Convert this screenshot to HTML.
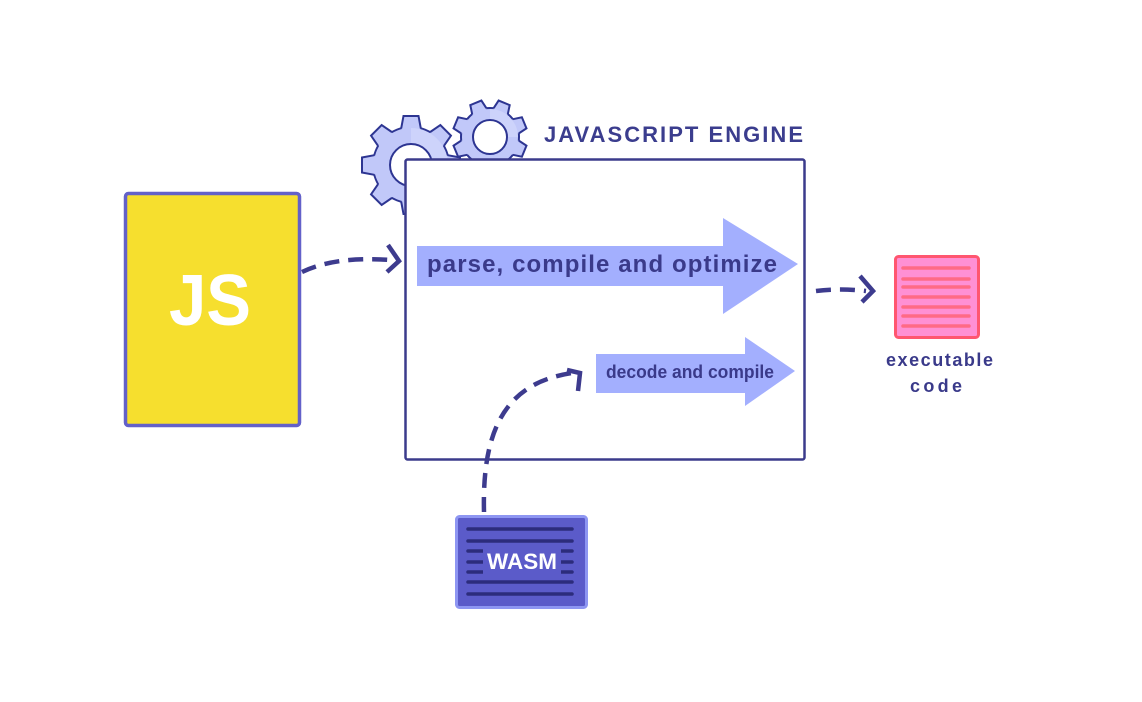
<!DOCTYPE html>
<html><head><meta charset="utf-8"><style>
html,body{margin:0;padding:0;background:#fff;}
svg{display:block;}
text{font-family:"Liberation Sans",sans-serif;font-weight:bold;}
</style></head><body>
<svg width="1142" height="702" viewBox="0 0 1142 702" xmlns="http://www.w3.org/2000/svg">
<rect width="1142" height="702" fill="#fff"/>

<!-- Big gear -->
<g stroke="#2d3592" stroke-width="2" fill="#c1c8f9">
  <circle cx="411" cy="165" r="38"/>
  <g transform="rotate(0 411 165)"><polygon points="401.5,130 403.5,116 418.5,116 420.5,130" stroke="none"/><path d="M401.2,128.3 L403.5,116 L418.5,116 L420.8,128.3" fill="none"/></g>
  <g transform="rotate(45 411 165)"><polygon points="401.5,130 403.5,116 418.5,116 420.5,130" stroke="none"/><path d="M401.2,128.3 L403.5,116 L418.5,116 L420.8,128.3" fill="none"/></g>
  <g transform="rotate(90 411 165)"><polygon points="401.5,130 403.5,116 418.5,116 420.5,130" stroke="none"/><path d="M401.2,128.3 L403.5,116 L418.5,116 L420.8,128.3" fill="none"/></g>
  <g transform="rotate(135 411 165)"><polygon points="401.5,130 403.5,116 418.5,116 420.5,130" stroke="none"/><path d="M401.2,128.3 L403.5,116 L418.5,116 L420.8,128.3" fill="none"/></g>
  <g transform="rotate(180 411 165)"><polygon points="401.5,130 403.5,116 418.5,116 420.5,130" stroke="none"/><path d="M401.2,128.3 L403.5,116 L418.5,116 L420.8,128.3" fill="none"/></g>
  <g transform="rotate(225 411 165)"><polygon points="401.5,130 403.5,116 418.5,116 420.5,130" stroke="none"/><path d="M401.2,128.3 L403.5,116 L418.5,116 L420.8,128.3" fill="none"/></g>
  <g transform="rotate(270 411 165)"><polygon points="401.5,130 403.5,116 418.5,116 420.5,130" stroke="none"/><path d="M401.2,128.3 L403.5,116 L418.5,116 L420.8,128.3" fill="none"/></g>
  <g transform="rotate(315 411 165)"><polygon points="401.5,130 403.5,116 418.5,116 420.5,130" stroke="none"/><path d="M401.2,128.3 L403.5,116 L418.5,116 L420.8,128.3" fill="none"/></g>
  <path d="M411,128 A37,37 0 0 1 448,165 L411,165 Z" fill="#d6dafb" stroke="none" opacity="0.6"/>
  <circle cx="411" cy="165" r="21" fill="#fff"/>
</g>

<!-- Small gear -->
<g stroke="#2d3592" stroke-width="2" fill="#c1c8f9">
  <circle cx="490" cy="137" r="29"/>
  <g transform="rotate(22.5 490 137)"><polygon points="482.5,110 484,100 496,100 497.5,110" stroke="none"/><path d="M482.3,109 L484,100 L496,100 L497.7,109" fill="none"/></g>
  <g transform="rotate(67.5 490 137)"><polygon points="482.5,110 484,100 496,100 497.5,110" stroke="none"/><path d="M482.3,109 L484,100 L496,100 L497.7,109" fill="none"/></g>
  <g transform="rotate(112.5 490 137)"><polygon points="482.5,110 484,100 496,100 497.5,110" stroke="none"/><path d="M482.3,109 L484,100 L496,100 L497.7,109" fill="none"/></g>
  <g transform="rotate(157.5 490 137)"><polygon points="482.5,110 484,100 496,100 497.5,110" stroke="none"/><path d="M482.3,109 L484,100 L496,100 L497.7,109" fill="none"/></g>
  <g transform="rotate(202.5 490 137)"><polygon points="482.5,110 484,100 496,100 497.5,110" stroke="none"/><path d="M482.3,109 L484,100 L496,100 L497.7,109" fill="none"/></g>
  <g transform="rotate(247.5 490 137)"><polygon points="482.5,110 484,100 496,100 497.5,110" stroke="none"/><path d="M482.3,109 L484,100 L496,100 L497.7,109" fill="none"/></g>
  <g transform="rotate(292.5 490 137)"><polygon points="482.5,110 484,100 496,100 497.5,110" stroke="none"/><path d="M482.3,109 L484,100 L496,100 L497.7,109" fill="none"/></g>
  <g transform="rotate(337.5 490 137)"><polygon points="482.5,110 484,100 496,100 497.5,110" stroke="none"/><path d="M482.3,109 L484,100 L496,100 L497.7,109" fill="none"/></g>
  <path d="M490,109 A28,28 0 0 1 518,137 L490,137 Z" fill="#d6dafb" stroke="none" opacity="0.6"/>
  <circle cx="490" cy="137" r="17" fill="#fff"/>
</g>

<!-- Title -->
<text x="544" y="142" font-size="22" fill="#3b3d8e" textLength="259" lengthAdjust="spacing">JAVASCRIPT ENGINE</text>

<!-- Engine box -->
<rect x="405.5" y="159.5" width="399" height="300" rx="2" fill="#fff" stroke="#3b3b8c" stroke-width="2.5"/>

<!-- JS box -->
<rect x="125.5" y="193.5" width="174" height="232" rx="3" fill="#f6df2e" stroke="#6361c9" stroke-width="3.5"/>
<text x="169" y="325" font-size="72" fill="#fff" textLength="82" lengthAdjust="spacingAndGlyphs">JS</text>

<!-- Parse arrow -->
<polygon points="417,246 723,246 723,218 798,264 723,314 723,286 417,286" fill="#a3affe"/>
<text x="427" y="272" font-size="24" fill="#3a3a8a" textLength="350" lengthAdjust="spacing">parse, compile and optimize</text>

<!-- Decode arrow -->
<polygon points="596,354 745,354 745,337 795,371 745,406 745,393 596,393" fill="#a3affe"/>
<text x="606" y="378" font-size="18" fill="#3a3a8a" textLength="168" lengthAdjust="spacingAndGlyphs">decode and compile</text>

<!-- Dashed connectors -->
<g fill="none" stroke="#3d3b8e" stroke-width="4.5">
  <path d="M302,272 Q335,256 390,260" stroke-dasharray="15 9"/>
  <path d="M388,245 L399,261 L387,272" stroke-linejoin="miter"/>
  <path d="M816,291 Q840,288 866,291" stroke-dasharray="15 9"/>
  <path d="M860,276 L873,291 L862,302"/>
  <path d="M484,512 C482,430 505,383 572,373" stroke-dasharray="15 9"/>
  <path d="M567,370 L580,373 L578,391"/>
</g>

<!-- Executable code -->
<rect x="895.5" y="256.5" width="83" height="81" rx="3" fill="#ff90d4" stroke="#ff5670" stroke-width="3"/>
<g stroke="#ff6a86" stroke-width="3.5" stroke-linecap="round">
  <line x1="903" y1="268" x2="969" y2="268"/>
  <line x1="903" y1="279" x2="969" y2="279"/>
  <line x1="903" y1="287" x2="969" y2="287"/>
  <line x1="903" y1="297" x2="969" y2="297"/>
  <line x1="903" y1="307" x2="969" y2="307"/>
  <line x1="903" y1="316" x2="969" y2="316"/>
  <line x1="903" y1="326" x2="969" y2="326"/>
</g>
<text x="886" y="366" font-size="18" fill="#3a3a8a" textLength="107" lengthAdjust="spacing">executable</text>
<text x="910" y="392" font-size="18" fill="#3a3a8a" textLength="52" lengthAdjust="spacing">code</text>

<!-- WASM -->
<rect x="456.5" y="516.5" width="130" height="91" rx="3" fill="#5b5bc9" stroke="#8e96f2" stroke-width="3"/>
<g stroke="#2c2c7c" stroke-width="3.5" stroke-linecap="round">
  <line x1="468" y1="529" x2="572" y2="529"/>
  <line x1="468" y1="541" x2="572" y2="541"/>
  <line x1="468" y1="551" x2="572" y2="551"/>
  <line x1="468" y1="562" x2="572" y2="562"/>
  <line x1="468" y1="572" x2="572" y2="572"/>
  <line x1="468" y1="582" x2="572" y2="582"/>
  <line x1="468" y1="594" x2="572" y2="594"/>
</g>
<rect x="483" y="548" width="78" height="27" fill="#5b5bc9"/>
<text x="487" y="569" font-size="22" fill="#fff" textLength="70" lengthAdjust="spacingAndGlyphs">WASM</text>
</svg>
</body></html>
